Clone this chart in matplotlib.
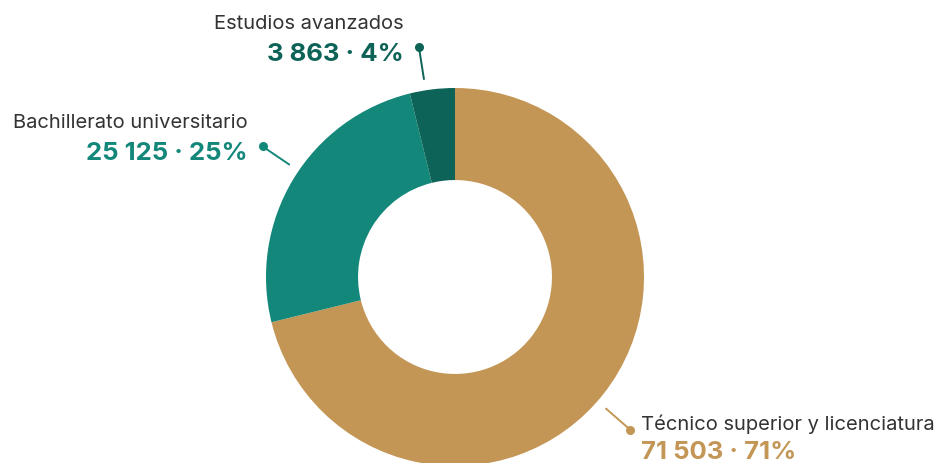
import numpy as np
import matplotlib.pyplot as plt

# data
labels = ["Técnico superior y licenciatura", "Bachillerato universitario", "Estudios avanzados"]
counts = [71503, 25125, 3863]
colors = ["#C39656", "#12877A", "#0D6357"]

plt.rcParams['font.family'] = ['Inter', 'DejaVu Sans']

W, H = 945, 464
fig = plt.figure(figsize=(W / 100, H / 100), dpi=100)
ax = fig.add_axes([0, 0, 1, 1])

cx, cy, R = 455, 186, 189
wedges, _ = ax.pie(counts, colors=colors, startangle=90, counterclock=False,
                   radius=R, center=(cx, cy), frame=True,
                   wedgeprops=dict(width=R * 0.487, linewidth=0))
ax.set_xlim(0, W)
ax.set_ylim(0, H)
ax.set_aspect('equal')
ax.axis('off')

# small angular nudge of the leader lines (degrees), per slice
nudge = [-3, -3, 2]

total = sum(counts)
for w, lab, n, col, dn in zip(wedges, labels, counts, colors, nudge):
    ang = np.deg2rad((w.theta1 + w.theta2) / 2 + dn)
    ux, uy = np.cos(ang), np.sin(ang)
    x0, y0 = cx + 1.06 * R * ux, cy + 1.06 * R * uy
    x1, y1 = cx + 1.23 * R * ux, cy + 1.23 * R * uy
    ax.plot([x0, x1], [y0, y1], color=col, lw=1.4, solid_capstyle='round')
    ax.plot(x1, y1, 'o', color=col, ms=6.5, mec='none')
    pct = round(n / total * 100)
    val = f"{n:,}".replace(",", " ") + f" · {pct}%"
    if ux < 0:
        tx, ha = x1 - 15, 'right'
        yn, yv = y1 + 24, y1 - 6
    else:
        tx, ha = x1 + 11, 'left'
        yn, yv = y1 + 6, y1 - 22
    ax.text(tx, yn, lab, ha=ha, va='center', fontsize=14.5, color='#333333')
    ax.text(tx, yv, val, ha=ha, va='center', fontsize=18.5, fontweight='bold', color=col)

fig.savefig("out.png", dpi=100)
